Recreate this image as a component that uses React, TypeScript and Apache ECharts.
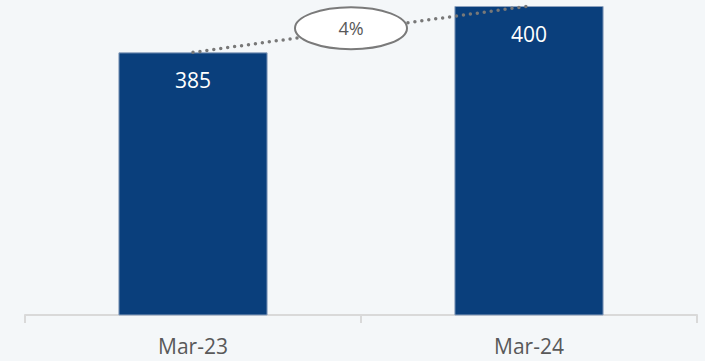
import React, { useEffect, useRef } from "react";
import * as echarts from "echarts";

const categories = ["Mar-23", "Mar-24"];
const values = [385, 400];
const yMin = 300;
const yMax = 400;

const FONT = "Open Sans";

export default function App() {
  const ref = useRef<HTMLDivElement>(null);
  useEffect(() => {
    document.body.style.margin = "0";
    const chart = echarts.init(ref.current!, null, { renderer: "svg" });
    const growth = Math.round(((values[1] - values[0]) / values[0]) * 100);
    chart.setOption({
      animation: false,
      backgroundColor: "#f4f7f9",
      grid: { left: 25, right: 8, top: 6, bottom: 46 },
      xAxis: {
        type: "category",
        data: categories,
        axisLine: { lineStyle: { color: "#d9d9d9", width: 2 } },
        axisTick: { show: true, length: 8, lineStyle: { color: "#d9d9d9", width: 2 } },
        axisLabel: { color: "#595959", fontSize: 21, fontFamily: FONT, margin: 20 },
      },
      yAxis: {
        type: "value",
        min: yMin,
        max: yMax,
        show: false,
        splitLine: { show: false },
      },
      series: [
        {
          type: "bar",
          data: values,
          barWidth: "44.4%",
          itemStyle: { color: "#0a3f7c", borderColor: "#8da2bf", borderWidth: 1 },
          label: {
            show: true,
            position: "insideTop",
            distance: 17,
            color: "#ffffff",
            fontSize: 21,
            fontFamily: FONT,
          },
          z: 2,
        },
        {
          type: "line",
          data: values,
          symbol: "none",
          lineStyle: { color: "#787878", width: 3.5, type: [0, 7], cap: "round" },
          z: 3,
        },
        {
          type: "custom",
          data: [[0, values[0], 1, values[1]]],
          z: 4,
          renderItem: (params: any, api: any) => {
            const p1 = api.coord([0, values[0]]);
            const p2 = api.coord([1, values[1]]);
            const cx = (p1[0] + p2[0]) / 2 - 10;
            const cy = (p1[1] + p2[1]) / 2 - 1;
            return {
              type: "group",
              children: [
                {
                  type: "ellipse",
                  shape: { cx, cy, rx: 56, ry: 21 },
                  style: { fill: "#ffffff", stroke: "#7a7a7a", lineWidth: 2 },
                },
                {
                  type: "text",
                  style: {
                    text: growth + "%",
                    x: cx,
                    y: cy,
                    align: "center",
                    verticalAlign: "middle",
                    fill: "#595959",
                    fontSize: 18,
                    fontFamily: FONT,
                  },
                },
              ],
            };
          },
        },
      ],
    });
    return () => chart.dispose();
  }, []);
  return <div ref={ref} style={{ width: 705, height: 361 }} />;
}
